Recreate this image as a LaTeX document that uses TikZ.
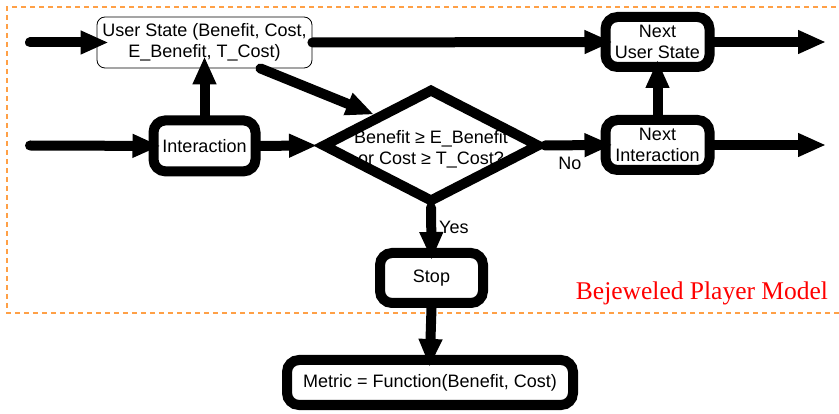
\documentclass[tikz,border=0pt]{standalone}
\usepackage{fontspec}
\setmainfont{Liberation Sans}
\newfontfamily\captionserif{Liberation Serif}
\usetikzlibrary{shapes.geometric, arrows.meta, positioning}
\definecolor{frameorange}{RGB}{255,160,70}

\begin{document}
\begin{tikzpicture}[
  x=1pt, y=-1pt,
  font=\fontsize{18}{21}\selectfont, node distance=43pt and 57pt,
  box/.style={rectangle, rounded corners=12pt, draw=black, line width=10pt, fill=white, align=center, inner sep=2pt, minimum width=104pt, minimum height=50pt},
  state/.style={rectangle, rounded corners=8pt, draw=black, line width=0.8pt, fill=white, align=center, inner sep=2pt, minimum width=215pt, minimum height=51pt},
  decision/.style={diamond, aspect=2, draw=black, line width=10pt, fill=white, align=center, inner sep=-15pt, minimum width=218pt, minimum height=114pt},
  arr/.style={-{Triangle[length=28pt, width=22pt]}, draw=black, line width=10pt, line cap=round},
  into/.style={shorten >=-12pt},
  lbl/.style={inner sep=1pt},
  frame/.style={draw=frameorange, line width=1.2pt, dash pattern=on 5pt off 4pt}]
\useasboundingbox (0,0) rectangle (839,414);
\draw[frame] (845,7) -| (7,313) -- (845,313);
\node[text=red, font=\captionserif\fontsize{25.5}{30}\selectfont] (title) at (702,293) {Bejeweled Player Model};
\node[state] (state) at (204.5,42.5) {User State (Benefit, Cost,\\E\_Benefit, T\_Cost)};
\node[box, minimum width=102pt, minimum height=51pt, below=47pt of state] (inter) {Interaction};
\node[decision] (check) at (431,145.5) {\rule{0pt}{21pt}Benefit ≥ E\_Benefit\\or Cost ≥ T\_Cost?};
\node[box] (nextstate) at (657.5,42) {Next\\User State};
\node[box, below=of nextstate] (nextinter) {Next\\Interaction};
\node[box, minimum width=103pt] (stop) at (431.5,278) {Stop};
\node[box, minimum width=286pt, minimum height=45pt] (metric) at (430,382.5) {Metric = Function(Benefit, Cost)};
\coordinate (in1) at (30,42.5);
\coordinate (in2) at (30,145.5);
\coordinate (out1) at (826,42);
\coordinate (out2) at (826,145);
\draw[arr, into] (in1) -- (state.west);
\draw[arr, into] (in2) -- (inter.west);
\draw[arr, into] (inter.north) -- (inter.north |- state.south);
\draw[arr] (inter.east) -- (check.west);
\draw[arr] ([xshift=-52pt]state.south east) -- (check.north west);
\draw[arr, into] (state.east) -- (nextstate.west);
\draw[arr, into] (check.east) -- node[lbl, pos=0.45, below=6pt]{No} (nextinter.west);
\draw[arr, into] (check.south) -- node[lbl, pos=0.48, right=2pt]{Yes} (stop.north);
\draw[arr, into] (stop.south) -- (metric.north);
\draw[arr, into] (nextinter.north) -- (nextstate.south);
\draw[arr] (nextstate.east) -- (out1);
\draw[arr] (nextinter.east) -- (out2);
\end{tikzpicture}
\end{document}
